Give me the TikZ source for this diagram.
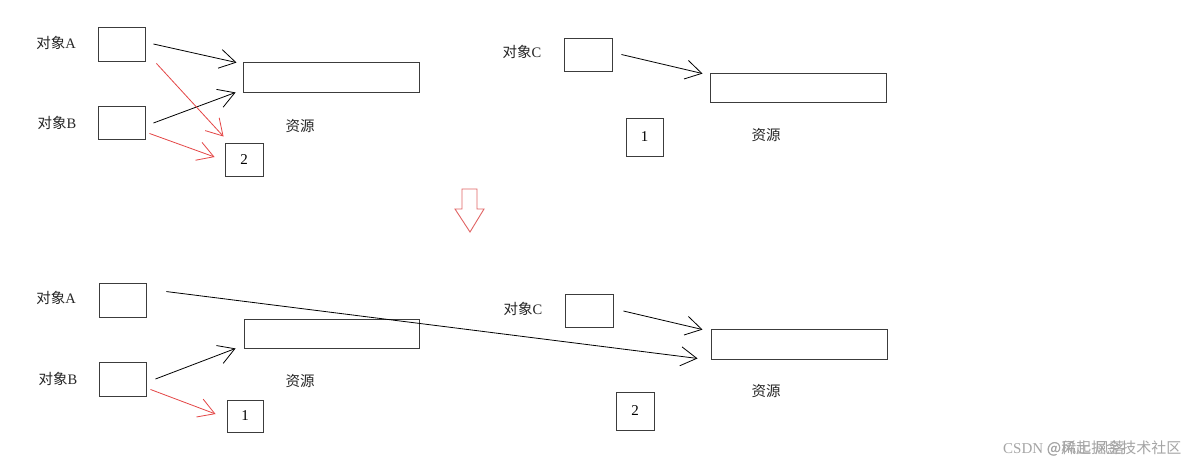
\documentclass[tikz,border=0pt]{standalone}
\usepackage{fontspec}
\setmainfont{Liberation Serif}
\newfontfamily\cjk{Noto Sans CJK SC}
\usetikzlibrary{arrows.meta,calc}
\definecolor{boxgray}{RGB}{60,60,60}
\definecolor{redline}{RGB}{228,70,70}
\definecolor{pinkarrow}{RGB}{225,100,100}
\definecolor{wm}{RGB}{165,165,165}
\tikzset{
  rect/.style={draw=boxgray, line width=0.9pt, inner sep=0pt, font=\fontsize{15}{15}\selectfont},
  lbl/.style={inner sep=0pt, font=\fontsize{14.5}{15}\selectfont, text=black!85},
  conn/.style={line width=0.8pt, -{Straight Barb[length=16pt,width=19pt,line width=0.8pt]}},
  blk/.style={conn, draw=black},
  rd/.style={conn, draw=redline},
}
\begin{document}
\begin{tikzpicture}[x=1pt,y=-1pt]
\useasboundingbox[fill=white] (0,0) rectangle (1191,467);
% ---------- top left ----------
\node[rect, minimum width=47pt, minimum height=34pt] (a1) at (121.5,44) {};
\node[rect, minimum width=47pt, minimum height=33pt] (b1) at (121.5,122.5) {};
\node[rect, minimum width=176pt, minimum height=30pt] (r1) at (331,77) {};
\node[rect, minimum width=38pt, minimum height=33pt] (n2t) at (244,159.5) {2};
\node[lbl] (la1) at (56,43) {{\cjk 对象}A};
\node[lbl] (lb1) at (57,123) {{\cjk 对象}B};
\node[lbl] (res1) at (300,126) {\cjk 资源};
% ---------- top right ----------
\node[rect, minimum width=48pt, minimum height=33pt] (c1) at (588,54.5) {};
\node[rect, minimum width=176pt, minimum height=29pt] (r2) at (798,87.5) {};
\node[rect, minimum width=37pt, minimum height=38pt] (n1t) at (644.5,137) {1};
\node[lbl] (lc1) at (522,52) {{\cjk 对象}C};
\node[lbl] (res2) at (766,135) {\cjk 资源};
% ---------- bottom left ----------
\node[rect, minimum width=47pt, minimum height=34pt] (a2) at (122.5,300) {};
\node[rect, minimum width=47pt, minimum height=34pt] (b2) at (122.5,379) {};
\node[rect, minimum width=175pt, minimum height=29pt] (r3) at (331.5,333.5) {};
\node[rect, minimum width=36pt, minimum height=32pt] (n1b) at (245,416) {1};
\node[lbl] (la2) at (56,298) {{\cjk 对象}A};
\node[lbl] (lb2) at (58,379) {{\cjk 对象}B};
\node[lbl] (res3) at (300,381) {\cjk 资源};
% ---------- bottom right ----------
\node[rect, minimum width=48pt, minimum height=33pt] (c2) at (589,310.5) {};
\node[rect, minimum width=176pt, minimum height=30pt] (r4) at (799,344) {};
\node[rect, minimum width=38pt, minimum height=38pt] (n2b) at (635,411) {2};
\node[lbl] (lc2) at (523,309) {{\cjk 对象}C};
\node[lbl] (res4) at (766,391) {\cjk 资源};
% ---------- connectors top ----------
\draw[blk] ($(a1.east)+(8,0)$) -- ($(r1.north west)+(-6,1)$);
\draw[blk] ($(b1.east)+(8,0.5)$) -- ($(r1.south west)+(-7,0)$);
\draw[rd] ($(a1.south east)+(11,2)$) -- ($(n2t.north west)+(-1,-6)$);
\draw[rd] ($(b1.south east)+(4,-6)$) -- ($(n2t.west)+(-10,-2.5)$);
\draw[blk] ($(c1.east)+(9,0)$) -- ($(r2.north west)+(-7,1)$);
% ---------- connectors bottom ----------
\draw[blk] ($(b2.east)+(9,0)$) -- ($(r3.south west)+(-8,0)$);
\draw[rd] ($(b2.south east)+(4,-7)$) -- ($(n1b.west)+(-11,-2)$);
\draw[blk] ($(a2.north east)+(20,9)$) -- ($(r4.south west)+(-13,-1)$);
\draw[blk] ($(c2.east)+(10,0.5)$) -- ($(r4.north west)+(-8,1)$);
% ---------- down arrow ----------
\draw[pinkarrow, line width=0.9pt, line join=miter] (462,189) -- (477,189) -- (477,209) -- (484,209) -- (470,232) -- (455,209) -- (462,209) -- cycle;
% ---------- watermark (two overlapping watermarks, as in the reference) ----------
\node[inner sep=0pt, anchor=west, text=wm, font=\fontsize{15}{15}\selectfont] (wm1) at (1003,448) {CSDN\rlap{\hspace{4pt}\cjk @稀土掘金技术社区}\ {\cjk @风起 风落}};
\end{tikzpicture}
\end{document}
